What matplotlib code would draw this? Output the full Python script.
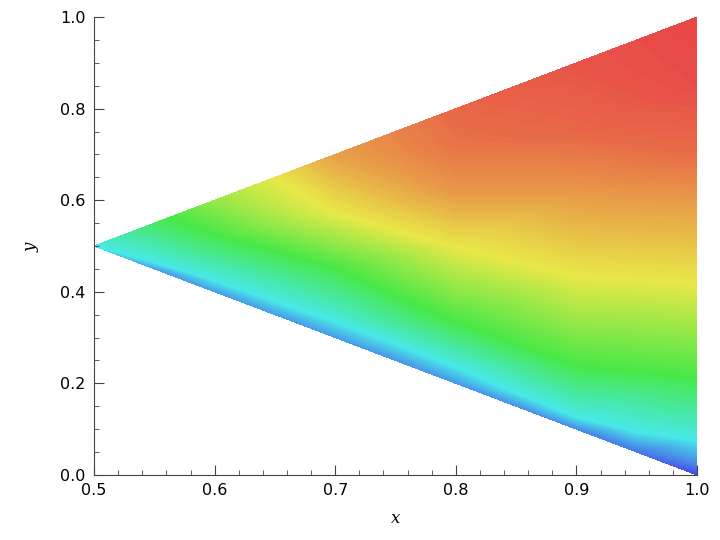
import numpy as np
import matplotlib
matplotlib.use("Agg")
import matplotlib.pyplot as plt
import matplotlib.tri as mtri
from matplotlib.colors import ListedColormap, hsv_to_rgb
from matplotlib.ticker import MultipleLocator

# === DATA ===
# sample points inside the triangle: x, y and the colour-scale value there
pt_x = [0.5,
        0.55, 0.55, 0.55,
        0.6, 0.6, 0.6, 0.6,
        0.65, 0.65, 0.65,
        0.7, 0.7, 0.7, 0.7, 0.7,
        0.75, 0.75,
        0.8, 0.8, 0.8, 0.8, 0.8, 0.8, 0.8,
        0.85, 0.85,
        0.9, 0.9, 0.9, 0.9, 0.9, 0.9, 0.9,
        0.95, 0.95,
        1.0, 1.0, 1.0, 1.0, 1.0, 1.0, 1.0, 1.0, 1.0]
pt_y = [0.5,
        0.55, 0.465, 0.45,
        0.6, 0.527, 0.425, 0.4,
        0.65, 0.38, 0.35,
        0.7, 0.573, 0.453, 0.335, 0.3,
        0.287, 0.25,
        0.8, 0.72, 0.62, 0.498, 0.335, 0.236, 0.2,
        0.18, 0.15,
        0.9, 0.75, 0.62, 0.435, 0.24, 0.127, 0.1,
        0.095, 0.05,
        1.0, 0.85, 0.7, 0.607, 0.42, 0.214, 0.076, 0.03, 0.0]
pt_val = [0.25,
          0.45, 0.25, 0.13,
          0.62, 0.5, 0.25, 0.13,
          0.75, 0.25, 0.13,
          0.86, 0.75, 0.5, 0.25, 0.13,
          0.25, 0.12,
          0.95, 0.93, 0.875, 0.75, 0.5, 0.25, 0.12,
          0.25, 0.11,
          0.98, 0.95, 0.875, 0.75, 0.5, 0.25, 0.1,
          0.25, 0.07,
          1.0, 0.99, 0.94, 0.875, 0.75, 0.5, 0.25, 0.12, 0.0]

x_ticks = [0.5, 0.6, 0.7, 0.8, 0.9, 1.0]
y_ticks = [0.0, 0.2, 0.4, 0.6, 0.8, 1.0]

# blue -> cyan -> green -> yellow -> red, softened
hues = np.linspace(240, 0, 256) / 360.0
hsv = np.column_stack([hues, np.full(256, 0.69), np.full(256, 0.91)])
cmap = ListedColormap(hsv_to_rgb(hsv))

plt.rcParams["mathtext.fontset"] = "dejavuserif"

fig = plt.figure(figsize=(7.2, 5.4), dpi=100)
ax = fig.add_axes([0.1306, 0.1204, 0.8375, 0.8481])

tri = mtri.Triangulation(pt_x, pt_y)
ax.tricontourf(tri, pt_val, levels=np.linspace(0, 1, 201), cmap=cmap,
               vmin=0, vmax=1, extend="both", antialiased=False)

ax.set_xlim(0.5, 1.0)
ax.set_ylim(0.0, 1.0)
ax.set_xticks(x_ticks)
ax.set_yticks(y_ticks)
ax.xaxis.set_minor_locator(MultipleLocator(0.02))
ax.yaxis.set_minor_locator(MultipleLocator(0.05))
ax.tick_params(which="both", direction="in", top=False, right=False,
               color="#444444", labelsize=11.5, pad=6)
ax.tick_params(which="major", length=7)
ax.tick_params(which="minor", length=3.5)
for s in ("top", "right"):
    ax.spines[s].set_visible(False)
for s in ("left", "bottom"):
    ax.spines[s].set_color("#444444")

ax.set_xlabel("$x$", fontsize=12, labelpad=8)
ax.set_ylabel("$y$", fontsize=12, labelpad=14)

fig.savefig("out.png", dpi=100)
